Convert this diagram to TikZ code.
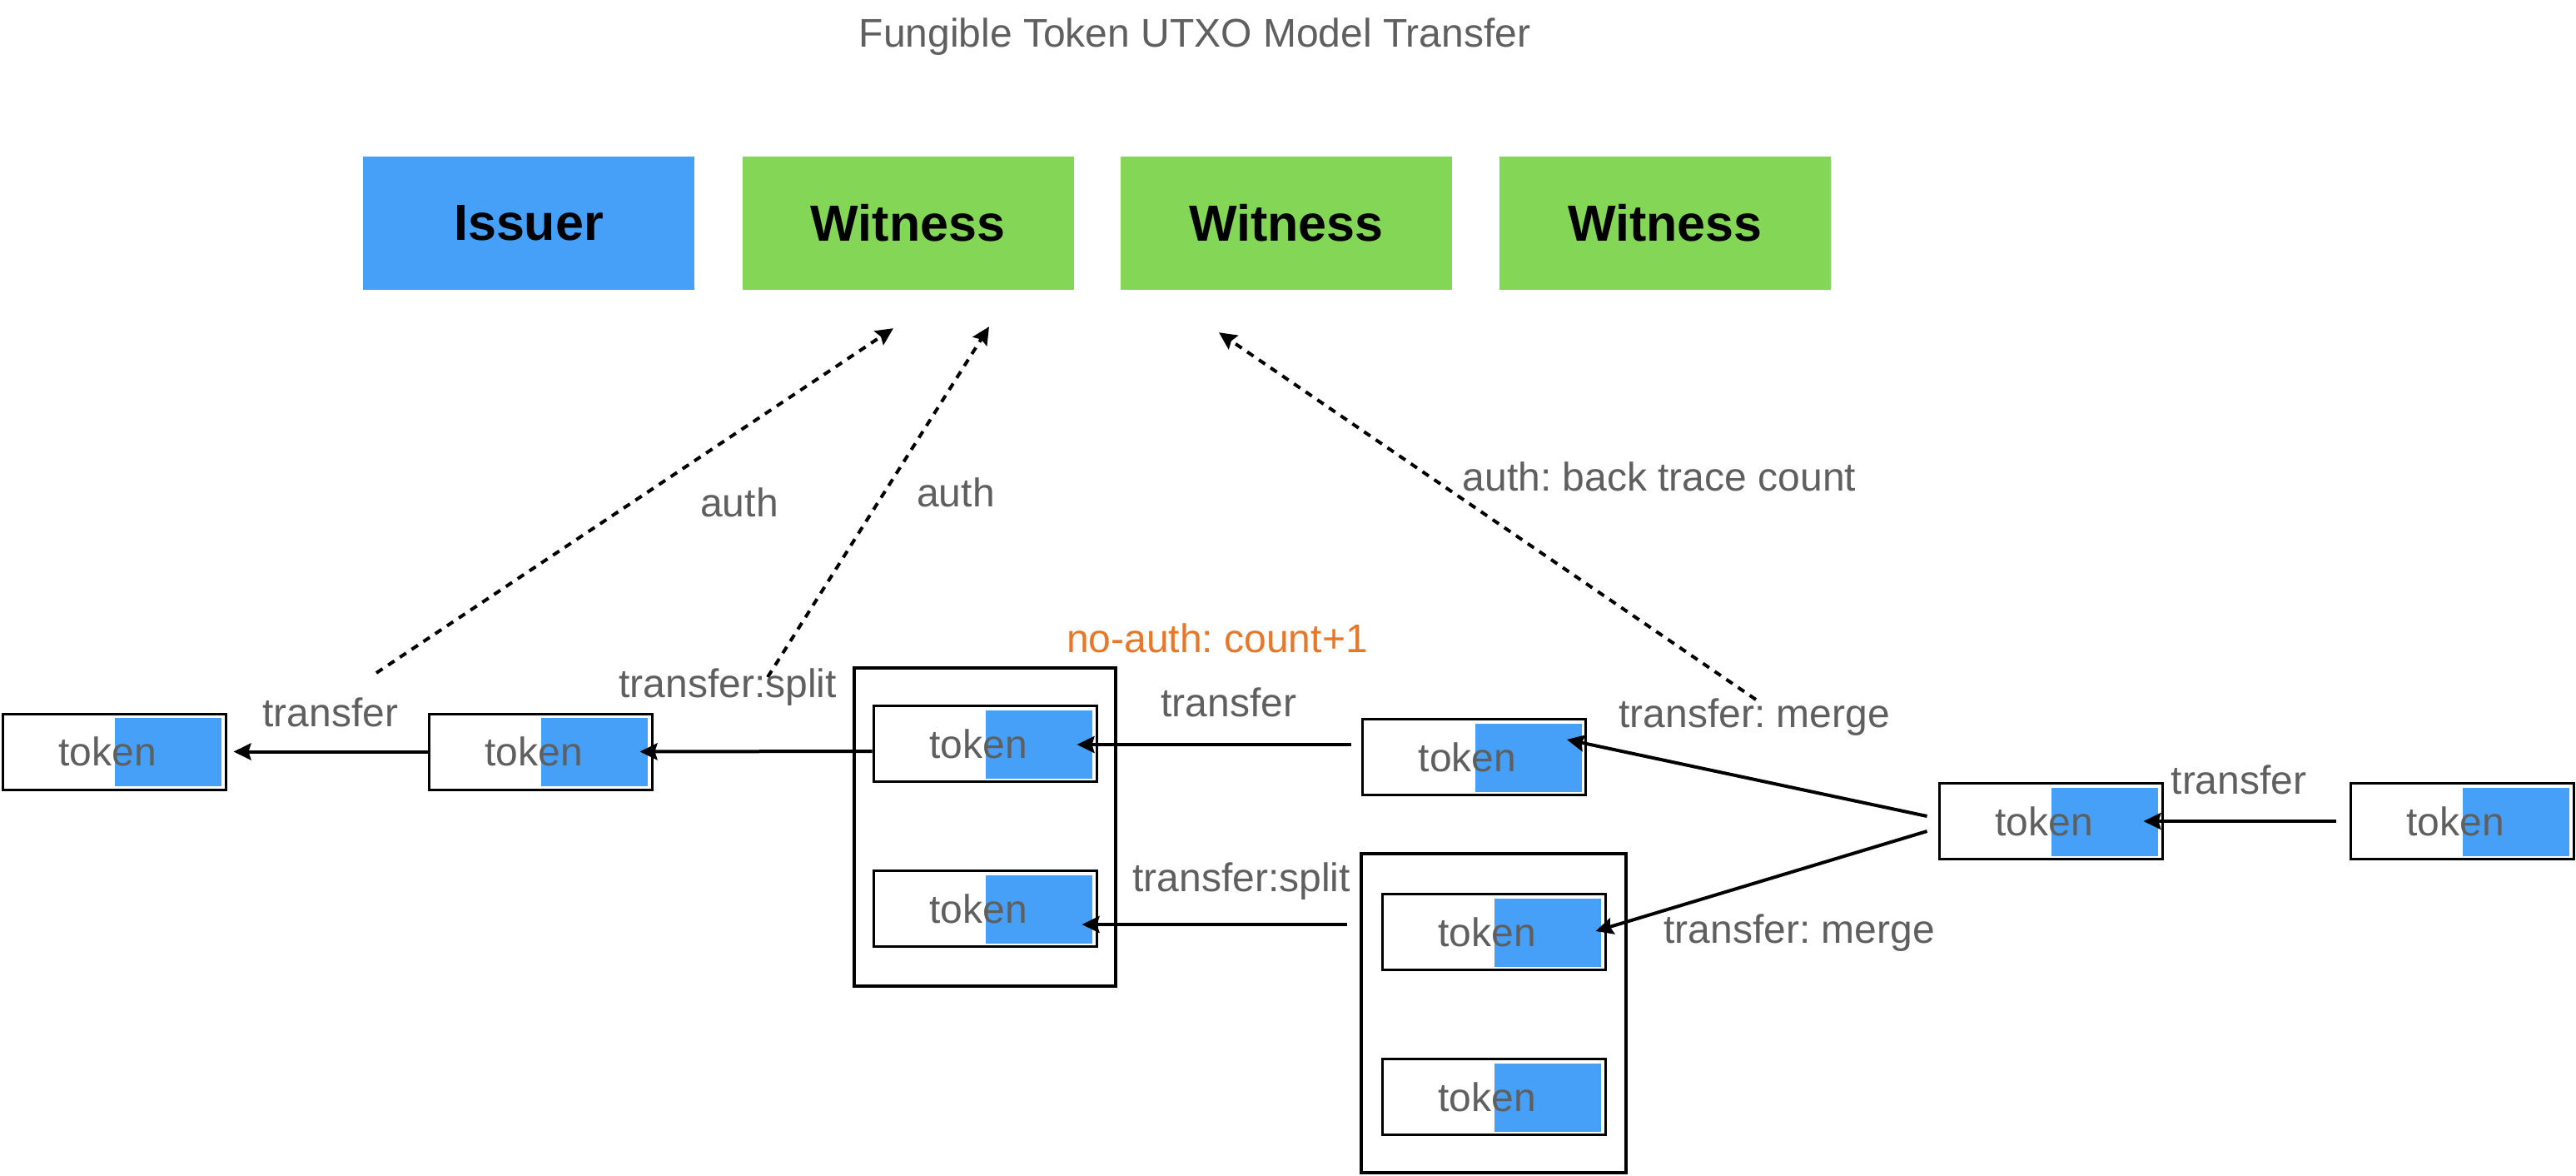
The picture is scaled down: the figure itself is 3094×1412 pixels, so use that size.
\documentclass[tikz,border=0pt]{standalone}
\usepackage{fontspec}
\setmainfont{Liberation Sans}
\usetikzlibrary{arrows.meta,calc}
\definecolor{tokblue}{RGB}{70,160,248}
\definecolor{wgreen}{RGB}{131,214,86}
\definecolor{txtgray}{RGB}{95,95,95}
\definecolor{orng}{RGB}{229,120,43}
\newcommand{\lblfont}{\fontsize{48pt}{58pt}\selectfont}
\newcommand{\boldbig}{\fontsize{61pt}{72pt}\selectfont\bfseries}
\frenchspacing
\begin{document}
\begin{tikzpicture}[x=1pt,y=-1pt,
  tok/.style={draw, line width=3pt, fill=white, minimum width=268pt, minimum height=91pt,
    inner sep=0pt, font=\lblfont, text=txtgray,
    path picture={\fill[tokblue] ($(path picture bounding box.north east)+(-133,5)$) rectangle ($(path picture bounding box.south east)+(-5,-4)$);}},
  topbox/.style={minimum width=398pt, minimum height=160pt, inner sep=0pt, font=\boldbig, text=black},
  container/.style={draw, line width=4.5pt, inner sep=0pt},
  arr/.style={-{Stealth[length=21pt,width=20pt,inset=3pt]}, line width=4pt},
  dotarr/.style={arr, dash pattern=on 9pt off 8pt},
  lbl/.style={font=\lblfont, text=txtgray, anchor=base, inner sep=0pt}
]
\useasboundingbox (0,0) rectangle (3094,1412);
\fill[white] (0,0) rectangle (3094,1412);

% title
\node[lbl] (title) at (1435,57) {Fungible Token UTXO Model Transfer};

% top boxes
\node[topbox, fill=tokblue] (issuer) at (635,268) {Issuer};
\node[topbox, fill=wgreen] (w1) at (1090.5,268) {Witness};
\node[topbox, fill=wgreen] (w2) at (1545,268) {Witness};
\node[topbox, fill=wgreen] (w3) at (2000,268) {Witness};

% containers
\node[container, minimum width=314pt, minimum height=382pt] (boxA) at (1183,993) {};
\node[container, minimum width=318pt, minimum height=383pt] (boxB) at (1794,1216.5) {};

% tokens
\node[tok] (t1) at (137,902.5) {\hspace*{-16pt}token};
\node[tok] (t2) at (649,902.5) {\hspace*{-16pt}token};
\node[tok] (atop) at (1183,893) {\hspace*{-16pt}token};
\node[tok] (abot) at (1183,1091) {\hspace*{-16pt}token};
\node[tok] (t3) at (1770.5,909) {\hspace*{-16pt}token};
\node[tok] (btop) at (1794,1119) {\hspace*{-16pt}token};
\node[tok] (bbot) at (1794,1317) {\hspace*{-16pt}token};
\node[tok] (m) at (2463,986) {\hspace*{-16pt}token};
\node[tok] (r) at (2957,986) {\hspace*{-16pt}token};

% solid arrows
\draw[arr] (t2.west) -- ($(t1.east)+(8,0)$);
\draw[arr] ($(atop.west)+(0,9)$) -- ($(t2.east)+(-16,0)$);
\draw[arr] ($(t3.west)+(-12,-15)$) -- ($(atop.east)+(-25,1)$);
\draw[arr] ($(btop.west)+(-41,-9)$) -- ($(abot.east)+(-19,19)$);
\draw[arr] ($(m.west)+(-13,-6)$) -- ($(t3.east)+(-24,-21)$);
\draw[arr] ($(m.west)+(-13,12)$) -- ($(btop.east)+(-13,-1)$);
\draw[arr] ($(r.west)+(-16,0)$) -- ($(m.east)+(-24,0)$);

% dotted auth arrows
\coordinate (d1s) at (452,808);
\coordinate (d2s) at (922,813);
\coordinate (d3s) at (2109,840);
\draw[dotarr] (d1s) -- ($(w1.south)+(-17.5,46)$);
\draw[dotarr] (d2s) -- ($(w1.south)+(97.5,44)$);
\draw[dotarr] (d3s) -- ($(w2.south)+(-81,51)$);

% labels
\node[lbl] (l1) at (397,872) {transfer};
\node[lbl] (l2) at (874,837) {transfer:split};
\node[lbl] (l3) at (888,620) {auth};
\node[lbl] (l4) at (1148,608) {auth};
\node[lbl, text=orng] (l5) at (1462,783) {no-auth: count+1};
\node[lbl] (l6) at (1476,860) {transfer};
\node[lbl] (l7) at (1491,1070) {transfer:split};
\node[lbl] (l8) at (1993,589) {auth: back trace count};
\node[lbl] (l9) at (2107,873) {transfer: merge};
\node[lbl] (l10) at (2161,1132) {transfer: merge};
\node[lbl] (l11) at (2689,953) {transfer};
\end{tikzpicture}
\end{document}
